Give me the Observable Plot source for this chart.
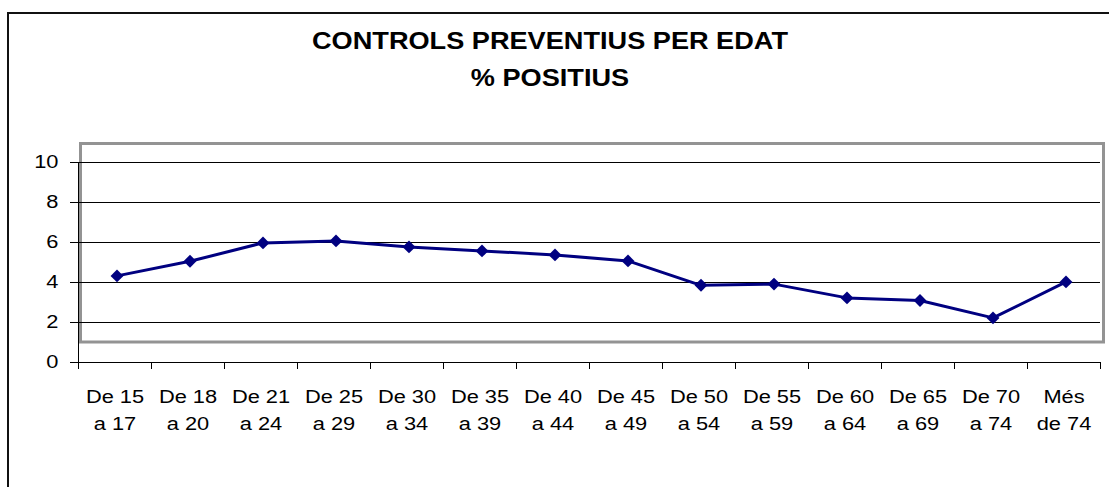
<!DOCTYPE html>
<html>
<head>
<meta charset="utf-8">
<script src="https://cdn.jsdelivr.net/npm/d3@7"></script>
<script src="https://cdn.jsdelivr.net/npm/@observablehq/plot@0.6"></script>
<style>
  html, body { margin: 0; padding: 0; background: #fff; }
  #wrap { position: relative; width: 1109px; height: 487px; overflow: hidden; background: #fff; }
  #border { position: absolute; left: 7px; top: 12px; width: 1200px; height: 600px; border: 2px solid #111; }
  #title { position: absolute; left: 0; top: 23px; width: 1100px; text-align: center;
           font: bold 23px/37px "Liberation Sans", Arial, sans-serif; color: #000;
           transform: scaleX(1.18); transform-origin: 550px 0; }
  #chart { position: absolute; left: 0; top: 0; }
</style>
</head>
<body>
<div id="wrap">
  <div id="border"></div>
  <div id="chart"></div>
  <div id="title">CONTROLS PREVENTIUS PER EDAT<br>% POSITIUS</div>
</div>
<script>
const categories = [
  "De 15\na 17", "De 18\na 20", "De 21\na 24", "De 25\na 29", "De 30\na 34",
  "De 35\na 39", "De 40\na 44", "De 45\na 49", "De 50\na 54", "De 55\na 59",
  "De 60\na 64", "De 65\na 69", "De 70\na 74", "Més\nde 74"
];
const positius = [4.33, 5.06, 5.98, 6.08, 5.78, 5.58, 5.38, 5.08, 3.86, 3.92, 3.23, 3.10, 2.23, 4.03];
const yTicks = [0, 2, 4, 6, 8, 10];
const gridTicks = [2, 4, 6, 8, 10];

const data = categories.map((c, i) => ({pos: i + 0.5, value: positius[i]}));
const boundaries = d3.range(categories.length + 1);
const centers = categories.map((c, i) => i + 0.5);

const svg = Plot.plot({
  width: 1109,
  height: 487,
  marginTop: 162,
  marginBottom: 125,
  marginLeft: 78,
  marginRight: 9,
  style: {fontFamily: '"Liberation Sans", Arial, sans-serif', fontSize: "18.5px", background: "transparent", color: "#000"},
  x: {domain: [0, categories.length]},
  y: {domain: [0, 10]},
  marks: [
    Plot.frame({stroke: "#939393", strokeWidth: 3, insetTop: -19, insetBottom: 20.5, insetLeft: 2, insetRight: -3}),
    Plot.gridY(gridTicks, {stroke: "#000", strokeOpacity: 1, strokeWidth: 1}),
    Plot.ruleY([0], {stroke: "#000"}),
    Plot.ruleX([0], {stroke: "#000"}),
    Plot.axisY(yTicks, {tickSize: 8, tickPadding: 12, fontSize: 18.5, label: null}),
    Plot.axisX(boundaries, {tickSize: 7, tickFormat: () => "", label: null}),
    Plot.axisX(centers, {tickSize: 0, tickPadding: 20.6, fontSize: 18.5, lineHeight: 1.48,
      tickFormat: d => categories[Math.floor(d)], label: null}),
    Plot.line(data, {x: "pos", y: "value", stroke: "#000080", strokeWidth: 3, dx: 2}),
    Plot.dot(data, {x: "pos", y: "value", symbol: "diamond2", r: 5.8, fill: "#000080", stroke: "none", dx: 2})
  ]
});
svg.querySelectorAll("text").forEach(t => {
  t.setAttribute("transform", (t.getAttribute("transform") || "") + " scale(1.18,1)");
});
document.getElementById("chart").appendChild(svg);
</script>
</body>
</html>
